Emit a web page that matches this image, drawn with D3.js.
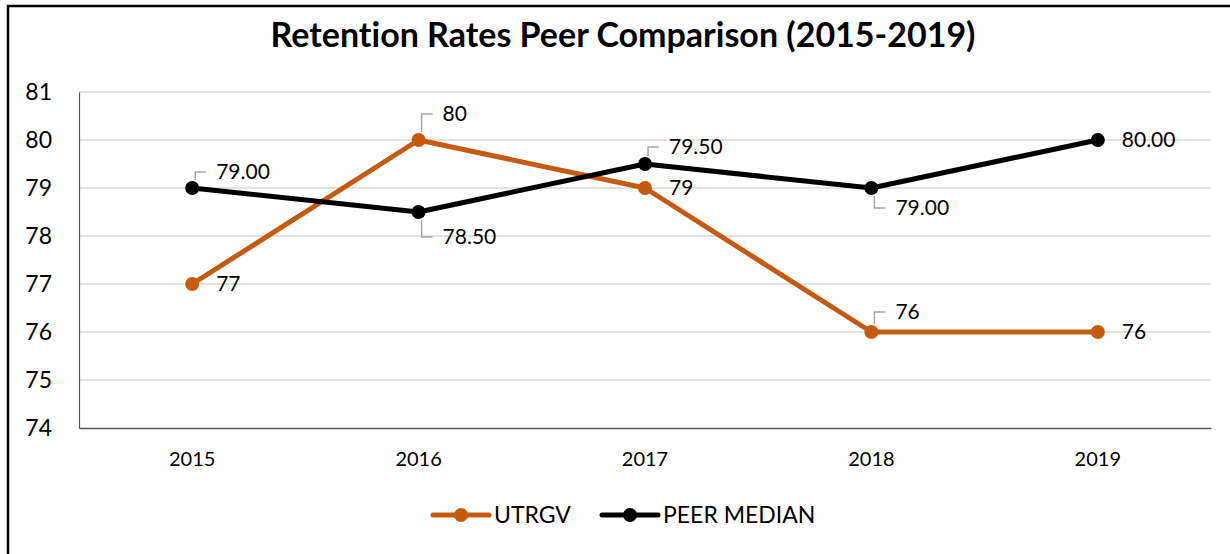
<!DOCTYPE html>
<html>
<head>
<meta charset="utf-8">
<script src="https://cdn.jsdelivr.net/npm/d3@7"></script>
<style>
  body { margin: 0; background: #fff; }
  svg { display: block; font-family: Lato, "Open Sans", sans-serif; font-variant-ligatures: none; }
</style>
</head>
<body>
<svg id="chart" width="1230" height="554"></svg>
<script>
const title = "Retention Rates Peer Comparison (2015-2019)";
const years = ["2015", "2016", "2017", "2018", "2019"];
const utrgv = [77, 80, 79, 76, 76];
const peerMedian = [79.00, 78.50, 79.50, 79.00, 80.00];
const yTicks = [74, 75, 76, 77, 78, 79, 80, 81];

// label layout (pixels, vertical offset of leader; 0 = plain label to the right)
const utrgvLabelDy = [0, -26, 0, -20, 0];
const peerLabelDy = [-16, 25, -17, 20, 0];

const svg = d3.select("#chart");
const W = 1230, H = 554;
const m = { left: 79, right: 1211, top: 92, bottom: 428 };

svg.append("rect").attr("x", 0).attr("y", 0).attr("width", W).attr("height", H).attr("fill", "#fff");
// outer border (only top & left visible)
svg.append("rect").attr("x", 8).attr("y", 6).attr("width", W + 20).attr("height", H + 20)
  .attr("fill", "none").attr("stroke", "#000").attr("stroke-width", 2.5);

const x = d3.scaleBand().domain(years).range([m.left, m.right]).paddingInner(0).paddingOuter(0);
const y = d3.scaleLinear().domain([74, 81]).range([m.bottom, m.top]);
const cx = d => x(d) + x.bandwidth() / 2;

// gridlines
svg.append("g").selectAll("line").data(yTicks.filter(t => t > 74)).join("line")
  .attr("x1", m.left).attr("x2", m.right)
  .attr("y1", d => y(d)).attr("y2", d => y(d))
  .attr("stroke", "#d9d9d9").attr("stroke-width", 1.5);

// y axis
const yAxis = svg.append("g").attr("transform", `translate(${m.left},0)`)
  .call(d3.axisLeft(y).tickValues(yTicks).tickSize(0).tickPadding(27).tickFormat(d3.format("d")));
yAxis.select(".domain").attr("stroke", "#555").attr("stroke-width", 1.2);
yAxis.selectAll("text").attr("font-size", 23).attr("fill", "#000").attr("font-family", "Lato, sans-serif");

// x axis
const xAxis = svg.append("g").attr("transform", `translate(0,${m.bottom})`)
  .call(d3.axisBottom(x).tickSize(0).tickPadding(24));
xAxis.select(".domain").attr("stroke", "#555").attr("stroke-width", 1.5);
xAxis.selectAll("text").attr("font-size", 20).attr("fill", "#000").attr("font-family", "Lato, sans-serif");

const series = [
  { name: "UTRGV", values: utrgv, color: "#C55A11", fmt: d3.format("d"), dy: utrgvLabelDy },
  { name: "PEER MEDIAN", values: peerMedian, color: "#000000", fmt: d3.format(".2f"), dy: peerLabelDy }
];

const line = d3.line().x((d, i) => cx(years[i])).y(d => y(d));

series.forEach(s => {
  svg.append("path").datum(s.values).attr("d", line)
    .attr("fill", "none").attr("stroke", s.color).attr("stroke-width", 5).attr("stroke-linejoin", "round");
});
series.forEach(s => {
  svg.append("g").selectAll("circle").data(s.values).join("circle")
    .attr("cx", (d, i) => cx(years[i])).attr("cy", d => y(d)).attr("r", 7)
    .attr("fill", s.color);
});

// data labels
series.forEach(s => {
  const g = svg.append("g");
  s.values.forEach((v, i) => {
    const px = cx(years[i]), py = y(v);
    const off = s.dy[i];
    const ly = py + off;
    if (off !== 0) {
      const sgn = off < 0 ? -1 : 1;
      g.append("path")
        .attr("d", `M${px + 3},${py + sgn * 8} L${px + 3},${ly} L${px + 14},${ly}`)
        .attr("fill", "none").attr("stroke", "#a6a6a6").attr("stroke-width", 1.5);
    }
    g.append("text").attr("x", px + 24).attr("y", ly).attr("dy", "0.35em")
      .attr("font-size", 21).attr("fill", "#000").text(s.fmt(v));
  });
});

// title
svg.append("text").attr("x", 623).attr("y", 47).attr("text-anchor", "middle")
  .attr("font-size", 34).attr("font-weight", "bold").attr("fill", "#000").text(title);

// legend
const legend = svg.append("g");
const legendItems = [
  { name: "UTRGV", color: "#C55A11", x0: 433 },
  { name: "PEER MEDIAN", color: "#000000", x0: 602 }
];
legendItems.forEach(it => {
  const ly = 515;
  legend.append("line").attr("x1", it.x0).attr("x2", it.x0 + 56).attr("y1", ly).attr("y2", ly)
    .attr("stroke", it.color).attr("stroke-width", 5).attr("stroke-linecap", "round");
  legend.append("circle").attr("cx", it.x0 + 28).attr("cy", ly).attr("r", 7).attr("fill", it.color);
  legend.append("text").attr("x", it.x0 + 61).attr("y", ly).attr("dy", "0.35em")
    .attr("font-size", 23).attr("fill", "#000").text(it.name);
});
</script>
</body>
</html>
